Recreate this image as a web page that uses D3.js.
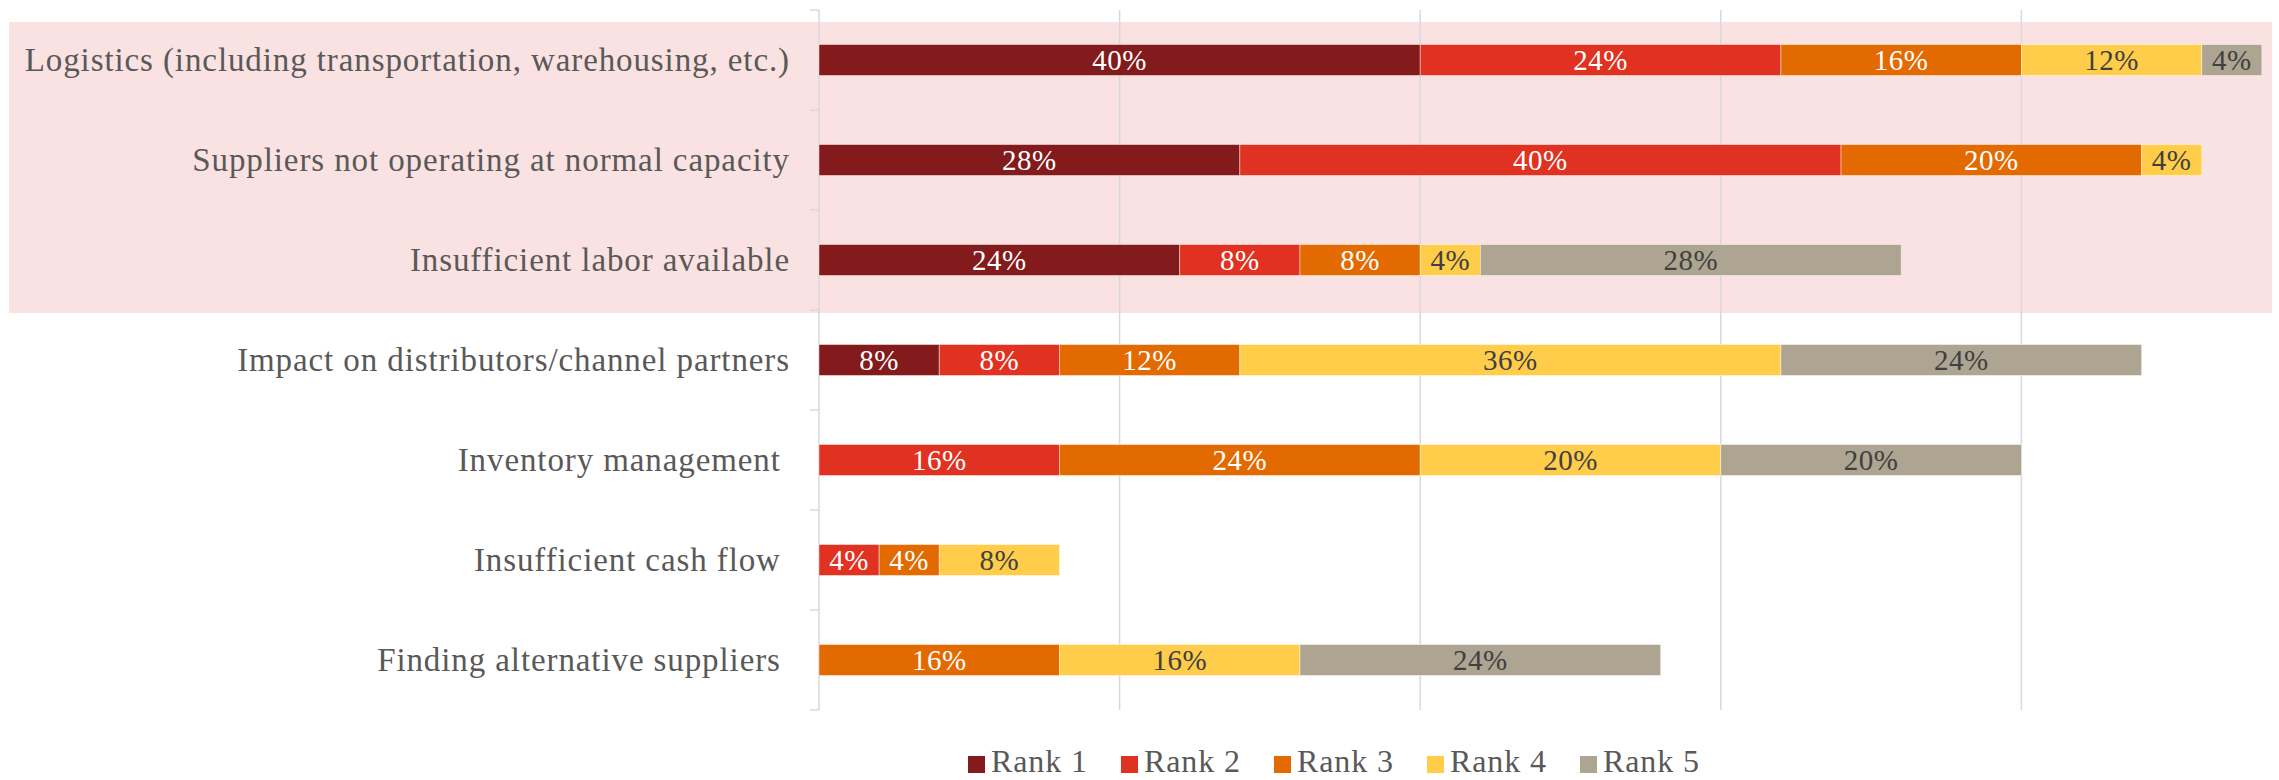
<!DOCTYPE html>
<html>
<head>
<meta charset="utf-8">
<script src="https://cdn.jsdelivr.net/npm/d3@7"></script>
<style>
  html, body { margin: 0; padding: 0; background: #ffffff; }
  svg { display: block; }
  text { white-space: pre; }
</style>
</head>
<body>
<svg id="chart" width="2279" height="780"></svg>
<script>
// Supply-chain challenges, share of respondents by rank (percent)
const categories = [
  "Logistics (including transportation, warehousing, etc.)",
  "Suppliers not operating at normal capacity",
  "Insufficient labor available",
  "Impact on distributors/channel partners",
  "Inventory management ",
  "Insufficient cash flow ",
  "Finding alternative suppliers "
];
const rankNames = ["Rank 1", "Rank 2", "Rank 3", "Rank 4", "Rank 5"];
const rank1 = [40, 28, 24, 8, 0, 0, 0];
const rank2 = [24, 40, 8, 8, 16, 4, 0];
const rank3 = [16, 20, 8, 12, 24, 4, 16];
const rank4 = [12, 4, 4, 36, 20, 8, 16];
const rank5 = [4, 0, 28, 24, 20, 0, 24];
const highlighted = categories.slice(0, 3);
const gridTicks = [20, 40, 60, 80];

const colors = ["#831a1b", "#e03121", "#e26a00", "#ffcd4a", "#ada591"];
const labelColors = ["#ffffff", "#ffffff", "#ffffff", "#404040", "#404040"];
const series = [rank1, rank2, rank3, rank4, rank5];

const rows = categories.map((c, i) => {
  const row = { category: c };
  rankNames.forEach((r, k) => { row[r] = series[k][i]; });
  return row;
});

const svg = d3.select("#chart");
const plotLeft = 819, plotTop = 10, plotBottom = 710;

const x = d3.scaleLinear().domain([0, 100]).range([plotLeft, plotLeft + 1503]);
const y = d3.scaleBand().domain(categories).range([plotTop, plotBottom]).paddingInner(0.69).paddingOuter(0.345);
const yOuter = d3.scaleBand().domain(categories).range([plotTop, plotBottom]);

const font = "'Liberation Serif', 'Times New Roman', serif";

// highlight band behind the first three rows
const hl = highlighted.map(c => yOuter(c));
svg.append("rect")
  .attr("x", 9)
  .attr("y", d3.min(hl) + 12)
  .attr("width", 2272 - 9)
  .attr("height", d3.max(hl) + yOuter.bandwidth() + 3 - (d3.min(hl) + 12))
  .attr("fill", "#f9e2e1");

// vertical gridlines
svg.append("g")
  .selectAll("line")
  .data(gridTicks)
  .join("line")
  .attr("x1", d => x(d)).attr("x2", d => x(d))
  .attr("y1", plotTop).attr("y2", plotBottom)
  .attr("stroke", "#d9d9d9").attr("stroke-width", 1.5);

// category axis
const yAxis = svg.append("g")
  .attr("transform", `translate(${plotLeft},0)`)
  .call(d3.axisLeft(yOuter).tickSize(0).tickPadding(29));
yAxis.select(".domain").attr("stroke", "#d9d9d9").attr("stroke-width", 1.5)
  .attr("d", `M0,${plotTop}V${plotBottom}`);
yAxis.selectAll(".tick text")
  .attr("font-family", font)
  .attr("font-size", 33)
  .attr("letter-spacing", 0.9)
  .attr("fill", "#595959")
  .attr("dy", "0.33em");

// boundary ticks between categories
const boundaries = categories.map(c => yOuter(c)).concat([plotBottom]);
svg.append("g")
  .selectAll("line")
  .data(boundaries)
  .join("line")
  .attr("x1", plotLeft - 9).attr("x2", plotLeft)
  .attr("y1", d => d).attr("y2", d => d)
  .attr("stroke", "#d9d9d9").attr("stroke-width", 1.5);

// stacked bars
const stack = d3.stack().keys(rankNames)(rows);
const layers = svg.append("g")
  .selectAll("g")
  .data(stack)
  .join("g")
  .attr("fill", (d, i) => colors[i]);

layers.selectAll("rect")
  .data(d => d.filter(s => s[1] - s[0] > 0))
  .join("rect")
  .attr("x", d => x(d[0]))
  .attr("y", d => y(d.data.category))
  .attr("width", d => x(d[1]) - x(d[0]))
  .attr("height", y.bandwidth())
  .attr("stroke", "#ffffff")
  .attr("stroke-opacity", 0.6)
  .attr("stroke-width", 0.75);

// value labels
stack.forEach((layer, i) => {
  svg.append("g")
    .selectAll("text")
    .data(layer.filter(s => s[1] - s[0] > 0))
    .join("text")
    .attr("x", d => (x(d[0]) + x(d[1])) / 2)
    .attr("y", d => y(d.data.category) + y.bandwidth() / 2)
    .attr("dy", "0.33em")
    .attr("text-anchor", "middle")
    .attr("font-family", font)
    .attr("font-size", 29)
    .attr("letter-spacing", 0.5)
    .attr("fill", labelColors[i])
    .text(d => `${d[1] - d[0]}%`);
});

// legend
const legend = svg.append("g")
  .selectAll("g")
  .data(rankNames)
  .join("g")
  .attr("transform", (d, i) => `translate(${968 + i * 153},0)`);
legend.append("rect")
  .attr("x", 0).attr("y", 756)
  .attr("width", 17).attr("height", 17)
  .attr("fill", (d, i) => colors[i]);
legend.append("text")
  .attr("x", 23).attr("y", 772)
  .attr("font-family", font)
  .attr("font-size", 32)
  .attr("letter-spacing", 0.9)
  .attr("fill", "#595959")
  .text(d => d);
</script>
</body>
</html>
